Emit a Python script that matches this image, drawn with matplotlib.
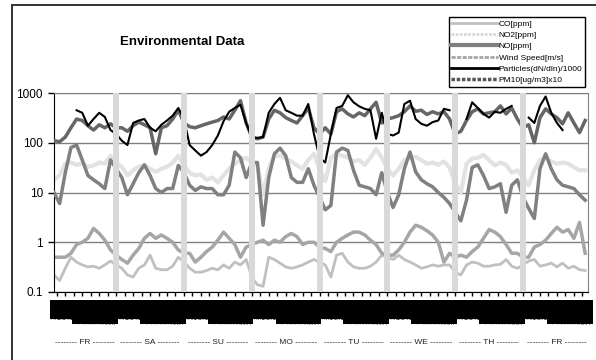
import numpy as np
import matplotlib
matplotlib.use('Agg')
import matplotlib.pyplot as plt
from matplotlib.lines import Line2D
from matplotlib.patches import Rectangle

plt.rcParams['font.family'] = ['Liberation Sans', 'DejaVu Sans']

# hours counted from Saturday 00:00, one reading every 2 hours
hours = np.arange(-22, 168, 2)
midnights = [0, 24, 48, 72, 96, 120, 144]
day_names = ['FR', 'SA', 'SU', 'MO', 'TU', 'WE', 'TH', 'FR']
nan = np.nan

# FR | 0 | SA | 24 | SU | 48 | MO | 72 | TU | 96 | WE | 120 | TH | 144 | FR
co = [0.22, 0.17, 0.3, 0.5, 0.4, 0.35, 0.32, 0.33, 0.3, 0.35, 0.42, 0.35,
      0.3, 0.22, 0.2, 0.3, 0.35, 0.55, 0.3, 0.28, 0.28, 0.33, 0.5, 0.4,
      0.3, 0.25, 0.25, 0.27, 0.3, 0.28, 0.35, 0.3, 0.4, 0.35, 0.45, 0.2,
      0.14, 0.13, 0.5, 0.45, 0.38, 0.32, 0.3, 0.32, 0.35, 0.4, 0.45, 0.4,
      0.35, 0.2, 0.55, 0.6, 0.4, 0.32, 0.3, 0.3, 0.33, 0.4, 0.55, 0.5,
      0.45, 0.55, 0.45, 0.4, 0.35, 0.3, 0.32, 0.35, 0.33, 0.35, 0.35, 0.25,
      0.22, 0.35, 0.4, 0.38, 0.33, 0.33, 0.35, 0.36, 0.45, 0.33, 0.3, 0.35,
      0.42, 0.45, 0.33, 0.35, 0.38, 0.32, 0.38, 0.3, 0.33, 0.28, 0.27]
no2 = [18, 22, 38, 40, 36, 38, 33, 35, 40, 38, 55, 40,
       33, 22, 28, 33, 35, 30, 26, 30, 33, 40, 55, 35,
       25, 22, 23, 18, 20, 16, 22, 30, 38, 45, 50, 40,
       35, 9, 30, 55, 55, 48, 42, 35, 30, 45, 60, 30,
       17, 50, 60, 55, 50, 42, 45, 36, 50, 75, 50, 30,
       22, 30, 45, 50, 52, 45, 38, 40, 36, 42, 32, 15,
       10, 38, 48, 50, 57, 45, 35, 40, 36, 25, 28, 20,
       14, 28, 45, 50, 42, 38, 40, 38, 32, 28, 28]
no = [10, 6, 25, 80, 90, 45, 22, 18, 15, 12, 45, 30,
      20, 9, 15, 25, 36, 22, 12, 10, 12, 12, 35, 25,
      14, 11, 13, 12, 12, 9, 9, 14, 65, 50, 20, 40,
      40, 2.2, 20, 60, 78, 55, 20, 16, 16, 30, 14, 8,
      4.5, 5.5, 65, 78, 70, 28, 14, 13, 12, 9, 25, 10,
      5, 9, 30, 65, 26, 18, 15, 13, 10, 8, 6, 4,
      2.7, 7, 32, 36, 22, 12, 13, 15, 4, 14, 18, 8,
      4.8, 3, 30, 60, 30, 18, 14, 13, 12, 9, 7]
wind = [0.5, 0.5, 0.5, 0.6, 0.9, 1.0, 1.2, 1.9, 1.5, 1.1, 0.7, 0.55,
        0.45, 0.38, 0.55, 0.75, 1.2, 1.5, 1.2, 1.4, 1.2, 1.0, 0.7, 0.6,
        0.6, 0.4, 0.5, 0.65, 0.8, 1.1, 1.6, 1.2, 0.9, 0.5, 0.8, 0.9,
        1.0, 1.1, 0.9, 1.1, 1.0, 1.3, 1.5, 1.3, 0.9, 1.0, 1.0, 0.8,
        0.75, 0.65, 1.0, 1.2, 1.4, 1.6, 1.6, 1.4, 1.1, 0.9, 0.6, 0.55,
        0.55, 0.7, 1.0, 1.6, 2.2, 2.0, 1.7, 1.4, 1.0, 0.4, 0.6, 0.5,
        0.55, 0.5, 0.65, 0.8, 1.2, 1.8, 1.6, 1.3, 0.9, 0.6, 0.6, 0.5,
        0.5, 0.8, 0.9, 1.1, 1.5, 2.0, 1.6, 1.8, 1.2, 2.5, 0.6]
particles = [nan, nan, nan, nan, 450, 400, 220, 300, 400, 330, 180, 150,
             110, 90, 250, 280, 300, 200, 170, 230, 280, 350, 500, 300,
             90, 70, 55, 65, 90, 140, 270, 420, 500, 580, 250, 130,
             125, 130, 400, 600, 800, 450, 400, 350, 350, 600, 150, 50,
             40, 150, 500, 550, 900, 650, 540, 480, 450, 120, 400, 150,
             140, 160, 600, 700, 300, 240, 220, 260, 280, 480, 450, nan,
             nan, 300, 650, 500, 380, 320, 420, 400, 480, 550, nan, nan,
             320, 250, 550, 850, 400, 250, 180, nan, nan, nan, nan]
pm10 = [110, 105, 130, 200, 300, 280, 220, 180, 230, 200, 240, 200,
        200, 170, 220, 260, 230, 200, 60, 200, 220, 300, 450, 250,
        210, 200, 220, 240, 260, 280, 330, 300, 450, 700, 250, 130,
        120, 130, 300, 450, 400, 320, 280, 250, 350, 500, 200, 150,
        200, 150, 420, 480, 380, 330, 400, 350, 480, 650, 250, 300,
        320, 350, 420, 550, 430, 450, 370, 420, 380, 420, 300, 150,
        170, 280, 420, 480, 380, 400, 420, 550, 380, 500, 300, 200,
        230, 100, 320, 480, 380, 320, 240, 400, 250, 160, 280]

fig = plt.figure(figsize=(5.96, 3.6), dpi=100)
# outer chart border (only left and top are inside the picture)
fig.patches.append(Rectangle((12 / 596, -0.1), 1.0, 1.1 - 5.5 / 360, transform=fig.transFigure,
                             fill=False, edgecolor='#222222', lw=1.3))

ax = fig.add_axes([54 / 596, 1 - 292 / 360, 534 / 596, 199 / 360])
ax.set_yscale('log')
ax.set_ylim(0.1, 1000)
ax.set_xlim(-22, 167)

ax.plot(hours, co, color='#c0c0c0', lw=2, zorder=2)
ax.plot(hours, no2, color='#e2e2e2', lw=3, zorder=2)
ax.plot(hours, no, color='#808080', lw=2.5, zorder=3)
ax.plot(hours, wind, color='#a6a6a6', lw=2.5, zorder=2)
ax.plot(hours, pm10, color='#666666', lw=2.5, zorder=3)
ax.plot(hours, particles, color='black', lw=1.5, zorder=4)

for m in midnights:
    ax.axvspan(m - 1.05, m + 1.05, color='#d9d9d9', zorder=5, lw=0)

ax.set_yticks([0.1, 1, 10, 100, 1000], ['0.1', '1', '10', '100', '1000'])
ax.yaxis.set_minor_locator(matplotlib.ticker.NullLocator())
ax.tick_params(axis='y', length=4, width=1, labelsize=8.5, pad=4)
ax.grid(axis='y', color='#808080', lw=1)
ax.set_axisbelow(True)

# hourly time labels, so dense that they merge into a black band
tick_hours = np.arange(-22, 168)
ax.set_xticks(tick_hours, ['%d:00' % (h % 24) for h in tick_hours], rotation=90, fontsize=6.8)
for lbl in ax.get_xticklabels():
    lbl.set_bbox(dict(facecolor='black', edgecolor='none', pad=0))
ax.set_xticks(np.arange(-21, 168, 3), minor=True)
ax.xaxis.remove_overlapping_locs = False
ax.tick_params(axis='x', which='major', length=0, pad=6)
ax.tick_params(axis='x', which='minor', length=3, width=1)

for side in ['top', 'right']:
    ax.spines[side].set_color('#808080')
ax.spines['left'].set_color('black')
ax.spines['bottom'].set_color('black')

bounds = [-22] + midnights + [168]
for i, name in enumerate(day_names):
    mid = (bounds[i] + bounds[i + 1]) / 2
    ax.text(mid, -0.255, '-------- %s --------' % name, transform=ax.get_xaxis_transform(),
            ha='center', va='center', fontsize=6, color='#222222')

fig.text(182 / 596, 1 - 42 / 360, 'Environmental Data', ha='center', va='center',
         fontsize=9.5, fontweight='bold')

handles = [
    Line2D([], [], color='#c0c0c0', lw=2),
    Line2D([], [], color='#d9d9d9', lw=2, ls=(0, (1, 0.5))),
    Line2D([], [], color='#808080', lw=3),
    Line2D([], [], color='#a6a6a6', lw=2, ls=(0, (1.5, 0.5))),
    Line2D([], [], color='black', lw=2),
    Line2D([], [], color='#555555', lw=2.5, ls=(0, (1, 0.5))),
]
labels = ['CO[ppm]', 'NO2[ppm]', 'NO[ppm]', 'Wind Speed[m/s]',
          'Particles(dN/dln)/1000', 'PM10[ug/m3]x10']
leg = fig.legend(handles, labels, loc='upper right', bbox_to_anchor=(589 / 596, 1 - 13 / 360),
                 fontsize=6, handlelength=5.6, handletextpad=0.1, labelspacing=0.42,
                 borderpad=0.3, fancybox=False, edgecolor='black', framealpha=1)
leg.get_frame().set_linewidth(1)

fig.savefig('out.png', dpi=100)
